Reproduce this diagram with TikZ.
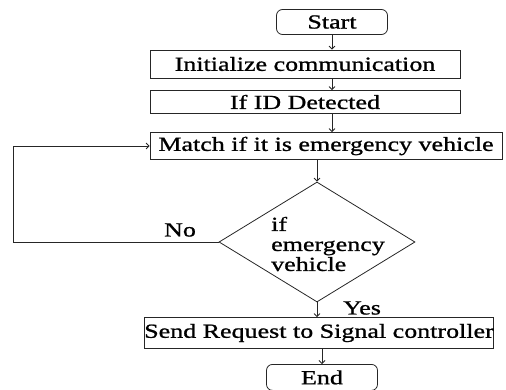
\documentclass[tikz,border=0pt]{standalone}
\usepackage{fontspec}
\usetikzlibrary{shapes.geometric,arrows.meta}
\newfontfamily\flowfont{Liberation Serif}[FakeStretch=1.3,FakeBold=1]
\begin{document}
\begin{tikzpicture}[x=1pt,y=-1pt,
  every node/.style={font=\flowfont\fontsize{20}{20}\selectfont, inner sep=0pt},
  procbox/.style={draw=black!85, line width=0.8pt, rectangle},
  termbox/.style={draw=black!85, line width=0.8pt, rectangle, rounded corners=6pt},
  decbox/.style={draw=black!85, line width=0.8pt, diamond, aspect=1.63},
  flow/.style={draw=black!85, line width=0.8pt, -{Straight Barb[length=3pt,width=6pt]}},
  lbl/.style={}
]
\useasboundingbox (0,0) rectangle (506,389);
\clip (0,0) rectangle (506,389);

% terminals and process steps
\node[termbox, minimum width=111pt, minimum height=25pt] (start) at (332,22) {Start};
\node[procbox, minimum width=310pt, minimum height=28pt] (init) at (305,64) {Initialize communication};
\node[procbox, minimum width=310pt, minimum height=23pt] (id) at (305,102) {If ID Detected};
\node[procbox, minimum width=352pt, minimum height=27pt] (match) at (326,146) {Match if it is emergency vehicle};

% decision
\node[decbox, minimum width=196pt, minimum height=120pt] (dec) at (317,242) {};
\node[align=left] (dectext) at (328,244) {if\\emergency\\vehicle};

\node[procbox, minimum width=342pt, minimum height=31pt] (send) at (319,333) {Send Request to Signal controller};
\node[termbox, minimum width=111pt, minimum height=26pt, anchor=north] (end) at (322,364) {End};

% branch labels
\node[lbl] (no) at (180,230) {No};
\node[lbl] (yes) at (362,308) {Yes};

% connectors
\coordinate (loop) at (13,242);
\draw[flow] (start.south) -- (start.south |- init.north);
\draw[flow] (init.south -| start.south) -- (id.north -| start.south);
\draw[flow] (id.south -| start.south) -- (match.north -| start.south);
\draw[flow] (dec.north |- match.south) -- (dec.north);
\draw[flow] (dec.south) -- (dec.south |- send.north);
\draw[flow] (end.north |- send.south) -- (end.north);
\draw[flow] (dec.west) -- (loop) |- (match.west);
\end{tikzpicture}
\end{document}
